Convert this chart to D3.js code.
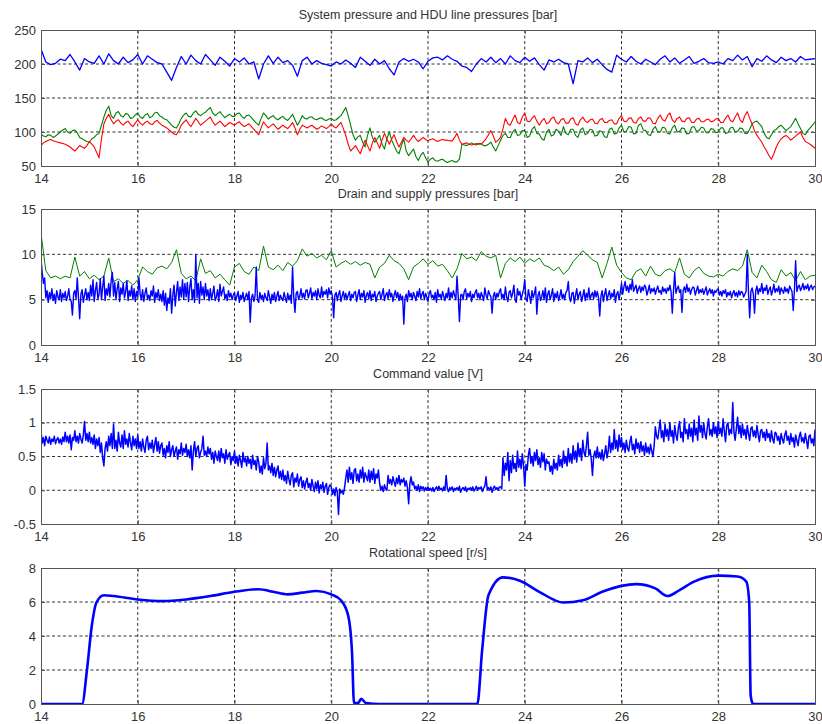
<!DOCTYPE html>
<html><head><meta charset="utf-8">
<script src="https://cdn.jsdelivr.net/npm/d3@7"></script>
<style>
body{margin:0;background:#fff}
text{font-family:"Liberation Sans",Arial,Helvetica,sans-serif;fill:#333}
</style>
</head><body>
<svg id="chart" width="822" height="724"></svg>
<script>
// ---------- DATA ----------
const xTicks = [14,16,18,20,22,24,26,28,30];
const titles = [
  "System pressure and HDU line pressures [bar]",
  "Drain and supply pressures [bar]",
  "Command value [V]",
  "Rotational speed [r/s]"
];
const yTicks1 = [50,100,150,200,250];
const yTicks2 = [0,5,10,15];
const yTicks3 = [-0.5,0,0.5,1,1.5];
const yTicks4 = [0,2,4,6,8];

// Panel 1 (evenly sampled from t = 14 to t = 30)
const systemPressure = [222,203,199,201,207,205,214,203,191,208,
203,201,212,200,215,205,200,210,202,206,
214,200,212,207,202,200,188,176,195,211,
200,213,205,200,214,206,198,210,204,197,
208,203,209,200,203,178,200,212,201,210,
202,205,198,182,205,210,200,205,201,199,
197,203,200,206,201,195,210,204,198,207,
200,205,193,184,203,208,204,207,203,193,
204,209,210,206,212,207,204,197,195,189,
200,208,203,210,202,208,200,212,205,202,
210,204,209,199,191,206,203,207,202,200,
171,205,203,209,202,207,199,192,188,213,
207,203,211,204,200,207,203,199,207,212,
203,209,201,206,211,201,204,208,202,201,
203,200,208,205,213,206,211,196,208,204,
212,206,202,210,205,208,203,211,206,207,208];
const hduLineA = [97,94,93,96,95,92,94,97,100,103,
105,100,98,102,103,99,92,90,88,86,
85,90,92,96,98,110,122,132,138,124,
120,128,130,124,122,127,126,120,121,125,
128,122,120,125,127,121,123,128,129,124,
122,119,118,114,110,107,106,112,120,125,
128,123,122,128,131,126,124,127,129,133,
136,128,124,127,130,125,121,124,126,123,
123,127,128,123,120,124,125,121,117,113,
110,120,128,124,119,122,124,120,118,121,
123,119,117,121,126,118,110,116,124,120,
119,122,122,119,118,120,121,118,117,119,
120,117,118,121,124,130,136,124,110,96,
88,93,95,85,78,95,106,92,85,90,
95,82,75,90,100,88,80,72,68,80,
90,72,65,70,75,64,58,66,70,62,
56,60,62,58,57,59,60,57,55,57,
58,56,56,60,82,81,80,82,84,82,
81,83,83,80,80,82,85,78,72,80,
88,95,98,92,92,100,104,95,96,102,
102,92,94,104,108,98,97,90,88,100,
104,94,96,104,101,95,108,98,96,104,
104,95,92,103,106,96,98,104,103,94,
95,102,100,93,92,104,106,97,98,106,
110,100,101,108,107,97,98,110,112,103,
102,96,95,104,108,100,100,107,106,98,
97,106,110,100,101,106,105,97,98,107,
108,101,102,107,106,99,99,105,104,99,
100,106,106,98,99,106,107,100,101,106,
105,98,98,104,112,115,116,112,108,98,
92,90,96,102,104,108,110,106,102,105,
108,114,120,112,105,98,96,102,106,110,115];
const hduLineB = [80,84,86,88,89,87,86,85,84,83,
82,80,78,75,72,76,80,78,76,80,
86,82,78,70,62,90,112,120,126,118,
112,116,118,113,110,114,116,111,108,113,
118,113,110,114,116,112,111,115,117,113,
110,108,106,103,100,97,96,102,110,114,
118,112,108,114,120,115,110,113,116,119,
122,115,110,113,116,112,108,111,114,112,
110,113,115,111,108,110,112,108,104,100,
96,106,115,110,106,109,112,108,104,107,
110,107,105,109,114,106,96,104,110,108,
106,108,110,107,104,106,109,107,105,108,
112,108,106,110,114,105,95,82,72,76,
80,74,68,78,88,80,72,84,92,84,
76,88,98,90,82,90,96,86,78,85,
92,88,85,90,95,90,86,89,92,89,
87,89,90,88,86,88,89,88,88,87,
87,92,98,88,82,83,84,82,81,82,
83,82,82,86,90,96,102,94,85,88,
92,105,120,112,110,118,125,114,112,122,
128,116,115,120,124,116,110,116,120,112,
114,120,122,114,112,118,120,113,113,119,
121,112,110,118,122,116,114,118,119,113,
112,118,120,114,114,117,118,112,112,120,
124,116,115,120,121,114,113,120,122,116,
116,121,120,113,112,120,125,118,116,124,
128,118,114,120,122,116,115,120,121,114,
114,119,120,115,115,118,119,115,116,119,
120,114,114,120,125,117,115,122,128,118,
114,124,130,120,112,102,95,90,85,78,
72,65,60,68,78,85,90,93,95,92,
88,91,94,97,100,92,86,84,82,79,76];

// Panel 2
const supplyPressure = [12.3,8.2,7.4,7.6,7.3,7.6,7.4,9.7,7.6,8.1,
7.3,7.7,7.2,7.6,9.6,7.0,7.3,6.8,7.1,6.6,
7.2,8.6,8.1,7.8,8.5,8.7,8.4,9.1,10.5,7.9,
7.3,7.6,7.1,9.5,7.9,8.2,7.4,7.8,7.2,6.6,
8.6,9.0,8.1,7.8,8.6,8.2,10.9,8.6,8.3,8.8,
8.2,9.1,8.7,9.3,10.6,9.8,10.1,9.6,9.9,9.4,
10.4,8.6,9.0,9.3,8.9,9.2,8.8,9.1,8.9,7.4,
8.6,9.0,9.9,9.3,9.0,8.4,7.2,8.6,9.0,9.5,
8.9,9.3,8.7,8.9,8.2,7.4,8.4,10.1,9.5,9.7,
9.3,10.3,9.8,9.6,9.9,7.4,9.0,9.6,9.2,9.7,
9.0,9.5,9.2,9.6,8.8,8.6,8.2,8.6,7.8,8.3,
9.2,9.8,10.4,9.9,9.4,9.1,7.4,9.0,10.8,8.8,
8.0,7.4,7.2,8.1,8.4,7.6,8.7,7.8,7.6,8.2,
8.4,8.0,9.6,7.8,7.4,8.2,8.6,7.9,7.6,7.5,
7.8,7.6,8.1,8.4,8.2,8.7,10.5,8.0,7.4,8.8,
8.1,7.2,6.9,8.3,7.6,8.0,7.1,8.1,7.2,7.6,7.7];
const drainPressure = [9.5,8.0,6.8,7.4,5.2,6.0,4.7,5.8,5.1,6.2,4.9,5.6,4.6,6.0,5.3,5.0,6.1,4.8,5.7,5.2,
5.9,4.9,5.4,6.2,5.0,4.8,3.3,5.7,6.0,5.1,7.4,5.2,2.9,5.6,6.1,4.7,5.5,6.2,5.0,5.8,
4.9,6.6,5.4,7.2,4.8,6.0,6.9,5.1,5.6,7.3,5.0,6.4,7.6,4.9,6.2,5.5,6.8,5.3,7.1,8.0,
5.4,6.9,5.0,6.2,7.0,4.8,6.3,5.6,6.8,5.2,5.9,7.1,4.9,6.0,5.4,6.5,5.0,6.2,4.8,5.9,
5.3,7.4,5.6,5.0,6.1,4.8,5.7,6.3,5.1,5.5,4.9,6.0,5.4,6.5,4.7,5.8,5.2,6.1,4.9,5.6,
4.8,6.0,4.4,5.7,3.8,5.2,4.6,6.2,3.5,5.5,6.6,4.3,5.8,7.0,4.9,6.4,5.3,7.2,5.0,6.8,
5.3,6.9,4.8,6.4,7.3,5.0,6.1,4.7,10.0,5.2,6.8,4.6,7.0,5.5,6.4,5.0,6.8,5.4,6.1,4.9,
6.2,5.0,5.7,6.5,4.9,5.3,6.1,4.8,6.7,5.4,5.9,6.4,5.1,5.6,4.9,6.0,5.3,5.7,5.0,5.5,
5.8,4.9,5.4,5.9,4.7,5.5,5.1,5.8,4.8,5.3,5.7,5.0,5.9,2.5,5.2,5.6,4.8,5.4,8.6,5.0,
4.7,5.8,5.1,5.5,4.8,5.7,5.2,4.9,6.0,5.3,4.6,5.6,5.0,5.8,4.8,5.4,5.9,4.9,5.5,5.1,
4.9,5.8,5.2,4.7,5.7,5.0,5.5,4.6,8.6,5.2,3.6,5.7,5.9,5.0,5.4,6.2,5.2,5.7,5.1,6.0,
6.1,5.2,5.7,6.3,5.1,5.8,5.4,6.0,5.0,6.2,5.5,5.2,6.4,5.3,5.9,5.6,6.1,5.2,6.3,5.6,
6.0,5.3,3.0,5.5,5.8,4.9,5.6,6.0,4.8,5.4,5.9,5.1,5.7,5.0,5.5,5.9,4.9,5.6,5.2,5.8,
5.9,4.8,5.5,6.1,5.0,5.7,5.3,6.0,4.7,5.5,5.8,5.1,6.0,4.9,5.6,5.3,5.9,4.8,5.4,5.7,
5.9,5.0,5.6,6.2,4.9,5.5,5.8,5.1,6.1,5.3,5.7,4.8,5.5,6.0,5.2,5.8,4.9,5.6,5.0,5.4,
2.3,5.2,5.6,4.8,6.0,5.3,5.7,5.0,5.8,5.4,4.9,5.9,5.3,6.2,5.1,5.6,5.9,5.0,5.7,5.3,
4.8,5.7,6.0,5.2,5.5,5.0,5.8,4.7,6.1,5.3,5.6,5.0,5.9,5.4,4.9,5.7,5.2,6.3,5.0,5.8,
5.2,6.0,5.5,5.0,7.6,5.3,2.6,5.5,5.6,5.0,5.9,6.2,5.1,5.7,5.3,5.9,4.8,5.6,5.2,5.8,
6.1,5.2,5.7,5.0,5.8,5.4,4.9,6.3,5.5,5.1,6.0,5.6,5.3,3.5,5.4,5.8,5.0,5.7,5.3,5.9,
6.2,5.1,5.6,5.0,6.4,5.3,4.8,5.8,6.0,5.2,5.7,6.6,5.0,4.7,6.2,5.5,5.9,5.0,5.6,6.1,
7.2,5.1,4.8,6.1,5.4,4.6,6.0,5.2,5.7,6.4,3.4,5.5,5.9,4.9,5.3,6.0,5.0,6.3,4.7,5.6,
6.0,5.0,5.5,6.2,4.8,5.7,5.2,5.9,4.9,5.4,6.1,5.1,5.6,5.0,5.8,6.0,7.0,5.2,4.8,5.7,
5.8,4.6,5.5,6.2,5.0,5.6,5.9,4.8,5.4,6.1,4.9,5.7,5.2,6.3,5.0,5.5,5.8,5.1,6.0,5.3,
5.9,5.2,3.2,5.4,6.0,4.8,5.6,6.2,4.9,5.5,6.0,5.1,5.7,5.3,6.1,4.7,5.6,5.9,5.0,5.8,
6.8,5.6,6.4,7.0,6.0,6.5,5.8,6.7,6.1,7.2,5.9,6.3,6.6,5.7,6.2,6.5,5.8,6.4,6.0,6.6,
6.4,5.5,6.0,6.6,5.7,6.2,5.9,6.3,5.6,6.1,6.5,5.8,6.0,5.6,6.4,5.9,6.2,5.7,6.3,6.0,
6.6,5.9,3.5,6.0,8.0,5.7,6.2,6.5,5.8,6.1,3.6,6.0,6.4,5.8,6.7,5.9,6.3,5.6,6.1,6.4,
6.3,5.5,6.0,6.5,5.7,6.1,5.8,6.2,5.6,6.0,6.4,5.5,5.9,6.2,5.7,6.1,5.4,6.0,5.8,6.1,
6.2,5.5,5.9,5.4,6.0,5.7,6.1,5.3,5.8,5.5,5.9,5.2,5.7,6.0,5.4,5.8,5.3,6.0,5.5,5.9,
5.8,5.3,5.6,5.9,10.0,5.8,3.0,5.9,6.3,5.6,3.5,6.0,6.5,5.6,6.2,5.9,6.8,5.7,6.3,6.0,
6.6,5.6,6.1,6.4,5.5,6.0,6.7,5.8,6.2,5.9,6.5,5.6,6.3,6.0,5.7,6.4,5.9,6.2,5.7,6.5,
6.2,5.9,3.8,6.1,9.3,5.9,6.4,6.6,6.0,6.3,6.8,6.1,6.5,6.2,6.7,6.0,6.4,6.6,6.1,6.4,6.5];

// Panel 3
const commandValue = [0.88,0.70,0.78,0.66,0.80,0.74,0.70,0.79,0.68,0.76,0.72,0.80,0.69,0.75,0.78,0.70,0.76,0.68,0.79,0.72,
0.86,0.72,0.80,0.70,0.82,0.60,0.78,0.74,0.88,0.72,0.80,0.70,0.84,0.76,0.70,0.82,1.02,0.74,0.84,0.72,
0.86,0.70,0.78,0.68,0.82,0.62,0.76,0.66,0.78,0.56,0.70,0.48,0.36,0.62,0.72,0.58,0.80,0.66,0.84,0.62,
0.98,0.62,0.74,0.58,0.86,0.70,0.64,0.82,0.62,0.88,0.68,0.76,0.64,0.84,0.70,0.60,0.80,0.66,0.76,0.62,
0.82,0.62,0.72,0.58,0.76,0.64,0.56,0.74,0.80,0.60,0.70,0.62,0.74,0.56,0.68,0.78,0.58,0.72,0.55,0.66,
0.70,0.52,0.62,0.48,0.66,0.56,0.72,0.50,0.60,0.66,0.50,0.58,0.64,0.46,0.60,0.54,0.70,0.52,0.62,0.56,
0.68,0.50,0.60,0.48,0.66,0.30,0.58,0.72,0.50,0.62,0.66,0.48,0.56,0.62,0.80,0.52,0.58,0.50,0.64,0.54,
0.62,0.46,0.56,0.40,0.58,0.50,0.44,0.58,0.42,0.62,0.48,0.54,0.40,0.60,0.46,0.52,0.56,0.38,0.50,0.44,
0.58,0.40,0.50,0.36,0.52,0.44,0.34,0.56,0.42,0.48,0.36,0.50,0.40,0.46,0.32,0.52,0.38,0.44,0.30,0.50,
0.42,0.26,0.36,0.24,0.48,0.32,0.40,0.70,0.30,0.36,0.26,0.40,0.22,0.34,0.20,0.30,0.36,0.18,0.28,0.16,
0.30,0.14,0.22,0.10,0.28,0.16,0.08,0.22,0.26,0.05,0.18,0.12,0.24,0.06,0.16,0.20,0.04,0.14,0.02,0.12,
0.18,0.04,0.10,0.00,0.16,0.06,-0.02,0.12,0.02,0.14,-0.04,0.08,0.02,0.12,-0.03,0.06,0.10,-0.06,0.04,0.08,
0.05,-0.06,0.02,-0.08,0.04,-0.02,-0.36,0.02,-0.04,0.00,-0.06,0.04,0.18,0.30,0.12,0.34,0.16,0.26,0.10,0.30,
0.32,0.14,0.24,0.12,0.30,0.18,0.34,0.12,0.26,0.20,0.14,0.30,0.12,0.28,0.16,0.32,0.10,0.24,0.18,0.30,
0.10,0.00,0.06,-0.02,0.08,0.02,0.00,0.22,0.10,0.16,0.08,0.20,0.12,0.06,0.18,0.10,0.22,0.08,0.16,0.12,
0.18,0.06,0.14,0.04,-0.20,0.10,0.20,0.08,0.12,0.02,0.06,0.00,0.08,-0.02,0.06,0.02,0.05,-0.01,0.04,0.00,
0.05,0.00,0.03,-0.01,0.04,-0.02,0.02,0.05,0.00,0.06,0.01,0.03,-0.01,0.05,0.00,0.22,0.02,-0.02,0.04,0.01,
0.05,-0.02,0.03,0.01,0.04,0.00,0.06,-0.03,0.02,0.04,0.00,0.05,-0.02,0.03,0.01,0.04,0.00,0.05,-0.01,0.02,
0.06,0.00,0.04,0.02,0.05,-0.02,0.03,0.06,0.20,0.01,0.04,0.00,0.05,-0.03,0.03,0.06,0.01,0.04,0.00,0.05,
0.05,0.02,0.48,0.22,0.40,0.30,0.56,0.14,0.44,0.26,0.52,0.32,0.40,0.28,0.58,0.34,0.46,0.32,0.54,0.36,
0.06,0.38,0.30,0.52,0.62,0.40,0.50,0.36,0.56,0.44,0.60,0.38,0.48,0.34,0.56,0.42,0.54,0.30,0.46,0.40,
0.42,0.28,0.36,0.24,0.46,0.32,0.40,0.30,0.52,0.36,0.46,0.34,0.58,0.40,0.50,0.36,0.62,0.42,0.54,0.40,
0.66,0.46,0.58,0.42,0.70,0.50,0.62,0.44,0.74,0.56,0.50,0.66,0.86,0.52,0.60,0.46,0.22,0.50,0.58,0.48,
0.64,0.48,0.56,0.46,0.60,0.44,0.54,0.66,0.48,0.58,0.80,0.56,0.70,0.60,0.90,0.62,0.74,0.58,0.82,0.64,
0.78,0.60,0.70,0.56,0.74,0.62,0.58,0.72,0.80,0.60,0.68,0.54,0.76,0.62,0.70,0.56,0.72,0.58,0.66,0.52,
0.70,0.56,0.64,0.54,0.68,0.58,0.50,0.66,0.94,0.80,0.76,0.90,1.04,0.78,0.88,0.72,0.98,0.80,0.90,0.74,
1.00,0.80,0.88,0.70,0.96,0.82,0.74,0.92,1.02,0.78,0.86,0.72,1.06,0.84,0.90,0.76,0.98,0.80,0.92,0.72,
1.04,0.82,0.92,0.74,1.10,0.86,0.96,0.78,1.00,0.84,0.76,0.94,1.06,0.82,0.90,0.80,1.00,0.84,0.94,0.78,
1.02,0.84,0.92,0.80,1.06,0.88,0.72,0.96,1.00,0.82,0.90,0.84,1.30,0.86,0.74,0.92,1.08,0.84,0.96,0.78,
0.98,0.82,0.90,0.76,0.96,0.84,0.74,0.92,0.94,0.80,0.88,0.78,0.96,0.82,0.72,0.88,0.90,0.78,0.86,0.74,
0.90,0.78,0.84,0.72,0.88,0.76,0.70,0.86,0.84,0.74,0.80,0.68,0.84,0.76,0.70,0.82,0.88,0.74,0.80,0.68,
0.84,0.72,0.78,0.64,0.82,0.74,0.66,0.80,0.86,0.72,0.78,0.70,0.84,0.74,0.62,0.80,0.82,0.70,0.76,0.66,0.90];

// Panel 4: rotational speed (time, value)
const speedTime = [14,14.85,14.95,15.05,15.15,15.3,15.5,16,16.5,17,17.5,18,18.5,18.8,19.1,19.4,19.7,20,20.2,20.35,20.43,20.47,20.55,20.62,20.72,21,
  23.02,23.12,23.25,23.55,23.9,24.3,24.8,25.2,25.6,26,26.3,26.7,26.95,27.2,27.5,28,28.4,28.58,28.64,28.67,28.72,30];
const speedValue = [0,0,2,4.6,6.0,6.4,6.35,6.15,6.05,6.15,6.35,6.6,6.75,6.6,6.45,6.55,6.65,6.45,6.1,5.2,3.0,0.05,0.05,0.3,0.05,0,
  0,3.2,6.4,7.45,7.25,6.6,5.97,6.1,6.6,6.95,7.05,6.8,6.35,6.7,7.2,7.55,7.5,7.2,6.0,0.5,0,0];

// ---------- DRAWING ----------
const svg = d3.select("#chart");
const left = 41, right = 815;
const x = d3.scaleLinear().domain([14,30]).range([left,right]);

// evenly sampled series spanning the full time axis
const series = vals => {
  const step = 16/(vals.length-1);
  return vals.map((v,i)=>({t:14+i*step, v}));
};

const panels = [
  {title:titles[0], top:30, bottom:166, domain:[50,250], ticks:yTicks1, titleY:19,
   lines:[{data:series(systemPressure), color:"#0000ff", w:1.3},
          {data:series(hduLineA), color:"#008000", w:1.1},
          {data:series(hduLineB), color:"#ff0000", w:1.1}]},
  {title:titles[1], top:209, bottom:345, domain:[0,15], ticks:yTicks2, titleY:198,
   lines:[{data:series(supplyPressure), color:"#008000", w:1},
          {data:series(drainPressure), color:"#0000ff", w:1.4}]},
  {title:titles[2], top:389, bottom:524, domain:[-0.5,1.5], ticks:yTicks3, titleY:378,
   lines:[{data:series(commandValue), color:"#0000ff", w:1.5}]},
  {title:titles[3], top:568, bottom:704, domain:[0,8], ticks:yTicks4, titleY:557,
   lines:[{data:speedTime.map((t,i)=>({t, v:speedValue[i]})), color:"#0000ff", w:2.6, curve:d3.curveMonotoneX}]}
];

panels.forEach((p, pi) => {
  const y = d3.scaleLinear().domain(p.domain).range([p.bottom, p.top]);
  const g = svg.append("g");
  g.selectAll(".gx").data(xTicks.slice(1,-1)).join("line")
    .attr("x1", d=>x(d)).attr("x2", d=>x(d)).attr("y1", p.top).attr("y2", p.bottom)
    .attr("stroke","#333").attr("stroke-width",1).attr("stroke-dasharray","3,2.5");
  g.selectAll(".gy").data(p.ticks.slice(1,-1)).join("line")
    .attr("x1", left).attr("x2", right).attr("y1", d=>y(d)).attr("y2", d=>y(d))
    .attr("stroke","#333").attr("stroke-width",1).attr("stroke-dasharray","3,2.5");
  const cid = "clip"+pi;
  svg.append("clipPath").attr("id",cid).append("rect")
    .attr("x",left).attr("y",p.top).attr("width",right-left).attr("height",p.bottom-p.top);
  const lg = g.append("g").attr("clip-path",`url(#${cid})`);
  p.lines.forEach(L => {
    const line = d3.line().x(d=>x(d.t)).y(d=>y(d.v));
    if (L.curve) line.curve(L.curve);
    lg.append("path").datum(L.data).attr("d", line)
      .attr("fill","none").attr("stroke",L.color).attr("stroke-width",L.w)
      .attr("stroke-linejoin","round");
  });
  g.append("g").attr("transform",`translate(0,${p.bottom})`)
    .call(d3.axisBottom(x).tickValues(xTicks).tickSize(-4).tickPadding(8).tickFormat(d3.format("d")));
  g.append("g").attr("transform",`translate(${left},0)`)
    .call(d3.axisLeft(y).tickValues(p.ticks).tickSize(-4).tickPadding(5).tickFormat(d=>String(d)));
  g.append("g").attr("transform",`translate(0,${p.top})`)
    .call(d3.axisTop(x).tickValues(xTicks).tickSize(-4).tickFormat(""));
  g.append("g").attr("transform",`translate(${right},0)`)
    .call(d3.axisRight(y).tickValues(p.ticks).tickSize(-4).tickFormat(""));
  g.selectAll(".domain").attr("stroke","#555");
  g.selectAll(".tick line").attr("stroke","#555");
  g.selectAll(".tick text").attr("font-size",13).attr("fill","#333")
    .style("font-family",'"Liberation Sans",Arial,sans-serif');
  g.append("text").attr("x",(left+right)/2).attr("y",p.titleY).attr("text-anchor","middle")
    .attr("font-size",12.5).text(p.title);
});
</script>
</body></html>
